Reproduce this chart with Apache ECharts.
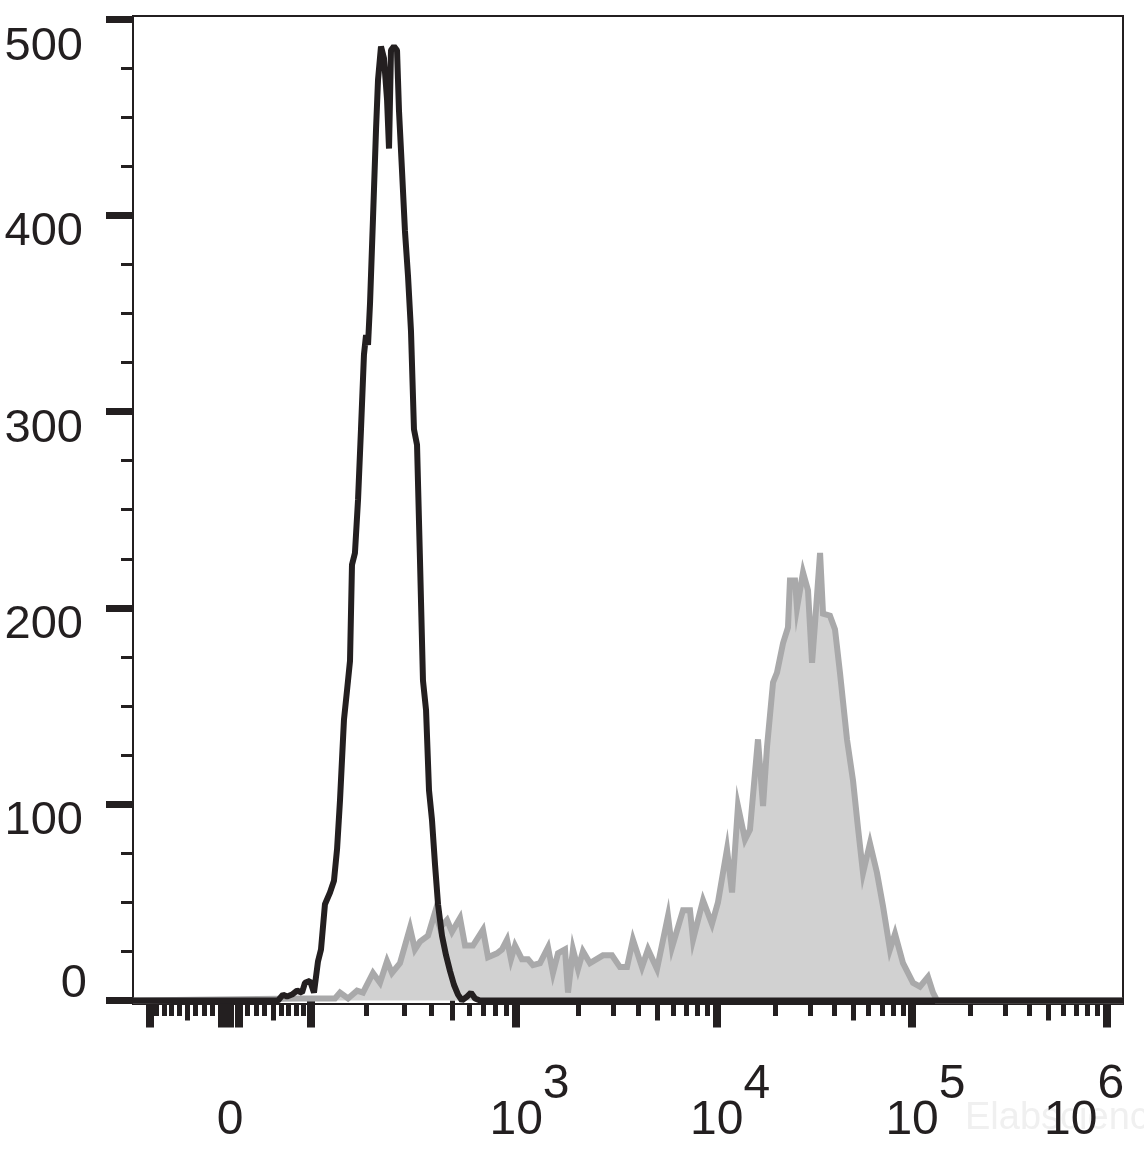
<!DOCTYPE html>
<html><head><meta charset="utf-8">
<script src="https://cdn.jsdelivr.net/npm/echarts@6/dist/echarts.min.js"></script>
<style>html,body{margin:0;padding:0;background:#fff}#c{width:1144px;height:1156px}</style>
</head><body><div id="c"></div>
<script>
// ---- data (x in display channels 0..1000 of a biexponential axis, y = event count) ----
const blackX = [0,146.5,151.5,155.6,160.6,165.7,170.7,173.7,178.8,182.8,186.9,189.9,193.9,199.0,203.0,206.1,209.1,213.1,216.2,219.2,221.2,224.2,227.3,230.3,233.3,235.4,237.4,239.4,242.4,245.5,247.5,250.5,253.5,256.6,258.6,260.6,263.6,266.7,268.7,271.7,274.7,277.8,280.8,283.8,286.9,289.9,292.9,296.0,299.0,302.0,305.1,308.1,312.1,316.2,320.2,324.2,328.3,332.3,337.4,341.4,345.5,350.5,1000];
const blackY = [0,0,3,2,3,5,4,9,10,4,20,26,49,55,61,77,102,143,158,173,222,228,255,291,329,339,334,355,398,444,469,486,480,459,434,484,486,484,453,423,392,369,341,291,283,224,163,148,107,92,69,49,33,23,15,8,3,0,2,4,1,0,0];
const grayX = [0,168.7,204.0,209.1,217.2,226.3,232.3,242.4,249.5,256.6,261.6,269.7,279.8,284.8,289.9,298.0,305.1,310.1,317.2,322.2,330.3,335.4,343.4,353.5,358.6,367.7,372.7,377.8,381.8,385.9,392.9,399.0,404.0,411.1,419.2,424.2,429.3,436.4,439.4,444.4,449.5,454.5,461.6,474.7,483.8,491.9,499.0,505.0,514.1,520.2,529.3,540.4,544.4,555.6,562.6,565.7,575.8,584.8,590.9,600.0,605.1,611.1,618.2,623.2,631.3,636.4,640.4,646.5,650.5,656.6,661.6,663.6,668.7,670.7,676.8,681.8,685.9,688.9,694.0,697.0,704.0,709.1,714.1,721.2,727.3,732.3,737.4,744.4,751.5,757.6,764.6,769.7,777.8,787.9,794.9,803.0,808.1,812.1,1000];
const grayY = [0,1,1,4,1,5,4,14,9,20,14,19,37,26,30,33,45,37,41,35,42,28,28,36,22,24,26,31,21,28,21,21,18,19,27,14,24,26,4,26,16,25,19,23,23,17,17,31,17,26,16,43,27,46,46,31,51,39,50,77,55,99,82,87,133,99,129,162,167,182,190,214,214,200,218,209,172,192,228,197,196,189,167,133,112,88,65,80,65,48,26,34,19,9,7,12,4,0,0];

// ---- axis ticks / labels ----
const yMajorTicks = [0,100,200,300,400,500];
const yMinorTicks = [25,50,75,125,150,175,225,250,275,325,350,375,425,450,475];
const yLabelValues = [100,200,300,400,500];
const xMajorTicks = [-100,-10,0,10,100,1e3,1e4,1e5,1e6];
const xMediumTicks = [-50,50,500,5e3,5e4,5e5];
const xMinorTicks = [-90,-80,-70,-60,-40,-30,-20,20,30,40,60,70,80,90,200,300,400,600,700,800,900,2e3,3e3,4e3,6e3,7e3,8e3,9e3,2e4,3e4,4e4,6e4,7e4,8e4,9e4,2e5,3e5,4e5,6e5,7e5,8e5,9e5];
const xLabelValues = [0,1e3,1e4,1e5,1e6];
const xLabelBase = ['0','10','10','10','10'];
const xLabelExp = ['','3','4','5','6'];

// biexponential (logicle-like) display transform: value -> display channel
const Z = 98.0, D = 196.5, A = 31.2, P = 2.1;
function S(u){ return A*(Math.pow(10,u/D) - P*P*Math.pow(10,-u/(D*P)) + P*P - 1); }
function toDisplay(v){
  const s = Math.sign(v), a = Math.abs(v);
  let lo = 0, hi = 1500;
  for (let i=0;i<80;i++){ const m=(lo+hi)/2; if (S(m)<a) lo=m; else hi=m; }
  return Z + s*(lo+hi)/2;
}

const INK = '#231f20';
const FONT = '"Liberation Sans", Arial, sans-serif';
const xLabelPos = xLabelValues.map(toDisplay);

function xFmt(v){
  let best=0, bd=1e9;
  xLabelPos.forEach((p,i)=>{ const d=Math.abs(p-v); if(d<bd){bd=d;best=i;} });
  if (xLabelExp[best]==='') return '{g| }{b|'+xLabelBase[best]+'}{h| }';
  if (best===xLabelValues.length-1) return '{b|'+xLabelBase[best]+'}{s|'+xLabelExp[best]+'}{e| }';
  return '{g| }{b|'+xLabelBase[best]+'}{s|'+xLabelExp[best]+'}';
}
const xRich = {
  g:{width:27,fontSize:48,lineHeight:48,verticalAlign:'bottom',fontFamily:FONT},
  h:{width:27,fontSize:48,lineHeight:48,padding:[0,0,36,0],verticalAlign:'bottom',fontFamily:FONT},
  e:{width:45,fontSize:48,lineHeight:48,verticalAlign:'bottom',fontFamily:FONT},
  b:{fontSize:48,lineHeight:48,color:INK,verticalAlign:'bottom',fontFamily:FONT},
  s:{fontSize:48,lineHeight:48,color:INK,padding:[0,0,36,0],verticalAlign:'bottom',fontFamily:FONT}
};

function xAxisLayer(ticks, len, w, withLabels){
  return {
    type:'value', min:0, max:1000, position:'bottom',
    axisLine:{show:false}, splitLine:{show:false},
    axisTick:{show:true, inside:false, length:len, customValues:ticks.map(toDisplay), lineStyle:{color:INK,width:w}},
    axisLabel: withLabels ? {show:true, customValues:xLabelPos, margin:93, formatter:xFmt, rich:xRich, color:INK, verticalAlign:'top', hideOverlap:false} : {show:false}
  };
}

const yMin = -1.8, yMax = 501.5;
const option = {
  animation:false,
  backgroundColor:'#ffffff',
  grid:{left:133, top:16, width:990, height:988, show:true, borderColor:INK, borderWidth:2, backgroundColor:'transparent', containLabel:false, outerBoundsMode:'none'},
  xAxis:[
    xAxisLayer(xMajorTicks, 27, 8, true),
    xAxisLayer(xMediumTicks, 20, 5, false),
    xAxisLayer(xMinorTicks, 12, 5, false)
  ],
  yAxis:[
    {type:'value', min:yMin, max:yMax, position:'left',
     axisLine:{show:false}, splitLine:{show:false},
     axisTick:{show:true, length:27, customValues:yMajorTicks, lineStyle:{color:INK,width:7}},
     axisLabel:{show:true, customValues:yLabelValues, margin:50, color:INK, verticalAlign:'top',
       formatter:v=> v===500 ? '{r|'+v+'}' : '{a|'+v+'}',
       rich:{a:{fontSize:47,lineHeight:34,fontFamily:FONT,color:INK}, r:{fontSize:47,lineHeight:34,padding:[22,0,0,0],fontFamily:FONT,color:INK}}}},
    {type:'value', min:yMin, max:yMax, position:'left',
     axisLine:{show:false}, splitLine:{show:false},
     axisTick:{show:true, length:12, customValues:yMinorTicks, lineStyle:{color:INK,width:3}},
     axisLabel:{show:true, customValues:[0], margin:46, color:INK, verticalAlign:'bottom',
       formatter:v=>'{a|'+v+'}', rich:{a:{fontSize:47,lineHeight:33,fontFamily:FONT,color:INK}}}}
  ],
  graphic:[{type:'text', left:965, top:1100, z:-1, style:{text:'Elabscience®', fontSize:38, fontFamily:FONT, fill:'#f0f0f0'}}],
  series:[
    {type:'line', name:'stained', xAxisIndex:0, yAxisIndex:0, data:grayX.map((x,i)=>[x,grayY[i]]),
     showSymbol:false, symbol:'none', smooth:false, z:2,
     lineStyle:{color:'#a9a9aa', width:6, join:'miter'}, areaStyle:{color:'#d1d1d1', opacity:1, origin:0}},
    {type:'line', name:'control', xAxisIndex:0, yAxisIndex:0, data:blackX.map((x,i)=>[x,blackY[i]]),
     showSymbol:false, symbol:'none', smooth:false, z:3,
     lineStyle:{color:INK, width:6}}
  ]
};
const chart = echarts.init(document.getElementById('c'), null, {renderer:'canvas'});
chart.setOption(option);
</script></body></html>
